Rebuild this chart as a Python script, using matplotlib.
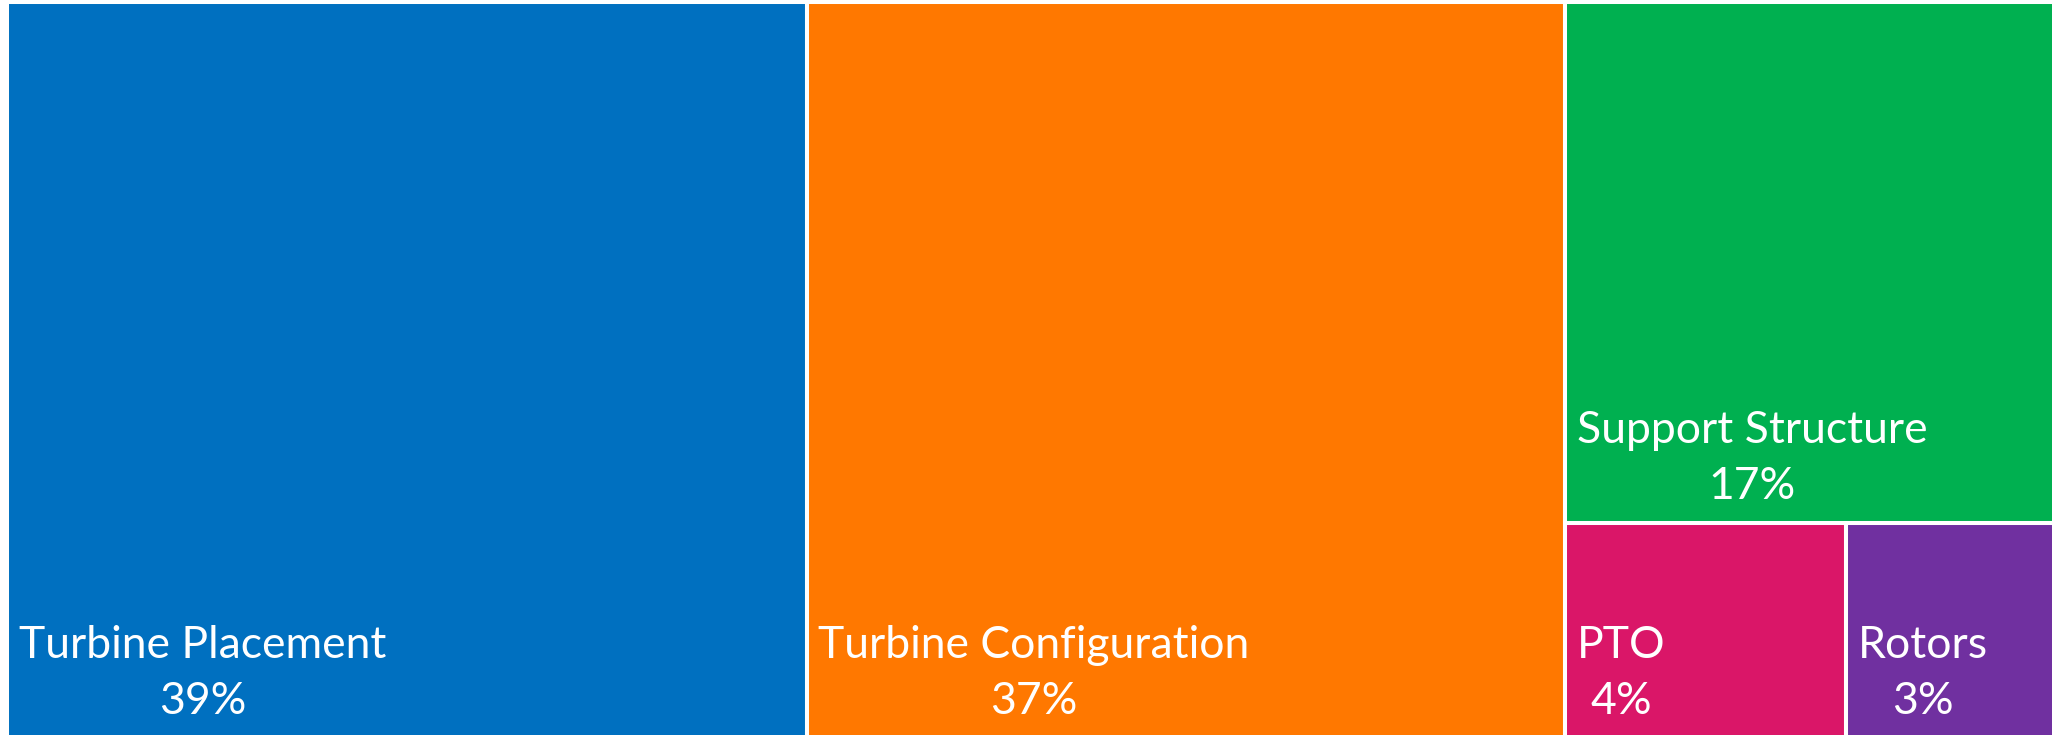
import matplotlib.pyplot as plt
from matplotlib.patches import Rectangle

categories = ["Turbine Placement", "Turbine Configuration", "Support Structure", "PTO", "Rotors"]
values = [39, 37, 17, 4, 3]
colors = ["#0070C0", "#FF7800", "#00B050", "#DA1668", "#7030A0"]


def worst(row, side):
    s = sum(row)
    t = s / side
    return max(max(t / (v / t), (v / t) / t) for v in row)


def squarify(areas, x, y, w, h):
    rects = []
    areas = list(areas)
    while areas:
        side = min(w, h)
        row = [areas.pop(0)]
        while areas and worst(row + [areas[0]], side) <= worst(row, side):
            row.append(areas.pop(0))
        t = sum(row) / side
        pos = 0
        for a in row:
            l = a / t
            if w >= h:
                rects.append((x, y + pos, t, l))
            else:
                rects.append((x + pos, y, l, t))
            pos += l
        if w >= h:
            x += t
            w -= t
        else:
            y += t
            h -= t
    return rects


W, H = 2050, 735.5
areas = [v / sum(values) * W * H for v in values]
rects = squarify(areas, 0, 0, W, H)

fig = plt.figure(figsize=(20.52, 7.35), dpi=100)
ax = fig.add_axes([7 / 2052, -2.5 / 735, W / 2052, H / 735])
ax.set_xlim(0, W)
ax.set_ylim(H, 0)
ax.axis("off")

for (x, y, w, h), name, v, c in zip(rects, categories, values, colors):
    ax.add_patch(Rectangle((x, y), w, h, facecolor=c, edgecolor="white", linewidth=2.9))
    # label block sits near the bottom-left of each tile, % centred under the name
    ax.text(x + 12, y + h - 24, f"{name}\n{v:.0f}%", color="white", fontsize=32,
            family="Lato", ha="left", va="baseline", multialignment="center", linespacing=1.44)

fig.savefig("out.png", dpi=100)
